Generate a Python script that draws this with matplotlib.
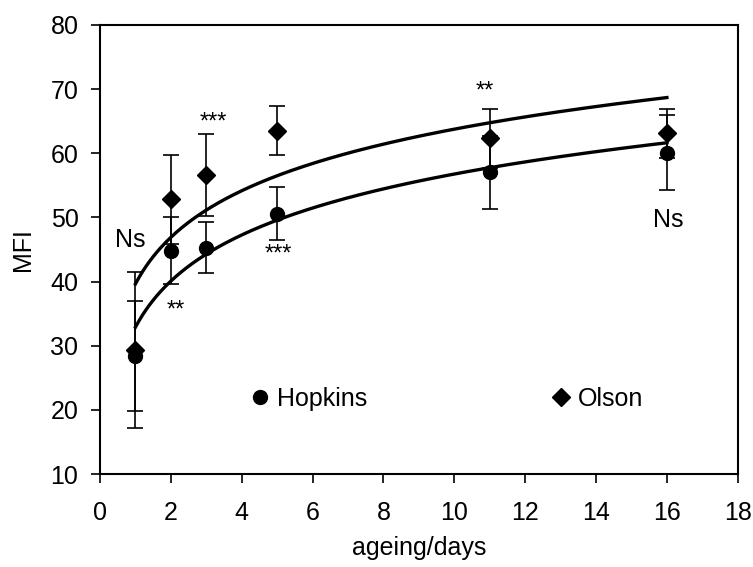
import numpy as np
import matplotlib
matplotlib.use("Agg")
import matplotlib.pyplot as plt

plt.rcParams['font.family'] = ['Liberation Sans', 'DejaVu Sans']

days = [1, 2, 3, 5, 11, 16]
hopkins = [28.4, 44.8, 45.3, 50.6, 57.0, 60.1]
hopkins_err = [8.5, 5.2, 4.0, 4.2, 5.7, 5.9]
olson = [29.3, 52.8, 56.6, 63.5, 62.3, 63.1]
olson_err = [12.2, 6.9, 6.4, 3.8, 4.6, 3.8]

ann_text = ["Ns", "**", "***", "***", "**", "Ns"]
ann_x = [0.85, 2.13, 3.19, 5.04, 10.87, 16.04]
ann_y = [45.4, 34.6, 63.9, 43.3, 68.7, 48.5]
ann_size = [18, 17, 17, 17, 17, 18]

xticks = [0, 2, 4, 6, 8, 10, 12, 14, 16, 18]
yticks = [10, 20, 30, 40, 50, 60, 70, 80]

fig = plt.figure(figsize=(7.53, 5.67), dpi=100)
ax = fig.add_axes([0.1328, 0.164, 0.847, 0.792])

eo = ax.errorbar(days, olson, yerr=olson_err, fmt='D', color='black', ms=9,
                 elinewidth=1.2, capsize=6, capthick=1.2, zorder=3)
eh = ax.errorbar(days, hopkins, yerr=hopkins_err, fmt='o', color='black', ms=10,
                 elinewidth=1.2, capsize=6, capthick=1.2, zorder=4)

xx = np.linspace(min(days), max(days), 300)
for vals in (hopkins, olson):
    b, a = np.polyfit(np.log(days), vals, 1)
    ax.plot(xx, a + b * np.log(xx), color='black', lw=2.4, zorder=5)

for t, x, y, s in zip(ann_text, ann_x, ann_y, ann_size):
    ax.text(x, y, t, fontsize=s, ha='center', va='baseline')

ax.set_xlim(0, 18)
ax.set_ylim(10, 80)
ax.set_xticks(xticks)
ax.set_yticks(yticks)
ax.tick_params(direction='out', length=6.5, width=1.2, labelsize=18)
ax.tick_params(axis='x', pad=13)
ax.tick_params(axis='y', pad=9)
for sp in ax.spines.values():
    sp.set_linewidth(1.5)
ax.set_xlabel('ageing/days', fontsize=18, labelpad=8)
ax.set_ylabel('MFI', fontsize=18, labelpad=11)

leg1 = ax.legend([eh[0]], ['Hopkins'], frameon=False, fontsize=18,
                 handlelength=0.8, handletextpad=0.28, borderpad=0,
                 borderaxespad=0, loc='center left', bbox_to_anchor=(0.235, 0.167))
ax.add_artist(leg1)
ax.legend([eo[0]], ['Olson'], frameon=False, fontsize=18,
          handlelength=0.8, handletextpad=0.28, borderpad=0,
          borderaxespad=0, loc='center left', bbox_to_anchor=(0.707, 0.167))

fig.savefig('out.png', dpi=100)
